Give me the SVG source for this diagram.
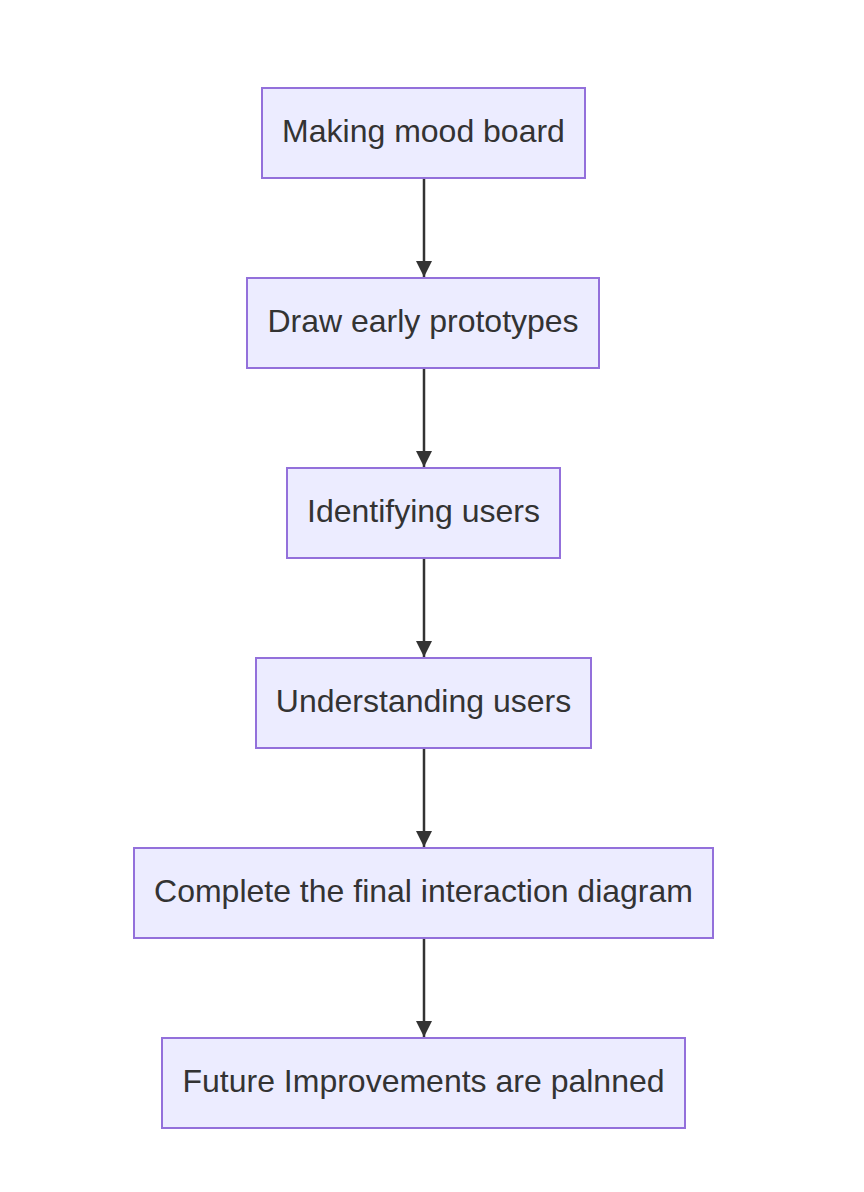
<svg xmlns="http://www.w3.org/2000/svg" width="864" height="1192" viewBox="0 0 864 1192">
<style>
.node rect{fill:#ECECFF;stroke:#9370DB;stroke-width:2}
.node text{font-family:"Liberation Sans",Arial,sans-serif;font-size:32px;fill:#333;text-anchor:middle}
.edge{stroke:#333;stroke-width:2.5;fill:none}
</style>
<defs>
<marker id="arrow" markerUnits="userSpaceOnUse" viewBox="0 0 10 10" refX="10" refY="5" markerWidth="17" markerHeight="16" orient="auto">
<path d="M0,0 L10,5 L0,10 z" fill="#333"/>
</marker>
</defs>
<rect width="864" height="1192" fill="#fff"/>
<g id="connectors">
<line class="edge" x1="424" y1="178" x2="424" y2="277" marker-end="url(#arrow)"/>
<line class="edge" x1="424" y1="368" x2="424" y2="467" marker-end="url(#arrow)"/>
<line class="edge" x1="424" y1="558" x2="424" y2="657" marker-end="url(#arrow)"/>
<line class="edge" x1="424" y1="748" x2="424" y2="847" marker-end="url(#arrow)"/>
<line class="edge" x1="424" y1="938" x2="424" y2="1037" marker-end="url(#arrow)"/>
</g>
<g id="n1" class="node"><rect x="262" y="88" width="323" height="90"/><text x="423.5" y="142">Making mood board</text></g>
<g id="n2" class="node"><rect x="247" y="278" width="352" height="90"/><text x="423" y="332">Draw early prototypes</text></g>
<g id="n3" class="node"><rect x="287" y="468" width="273" height="90"/><text x="423.5" y="522">Identifying users</text></g>
<g id="n4" class="node"><rect x="256" y="658" width="335" height="90"/><text x="423.5" y="712">Understanding users</text></g>
<g id="n5" class="node"><rect x="134" y="848" width="579" height="90"/><text x="423.5" y="902">Complete the final interaction diagram</text></g>
<g id="n6" class="node"><rect x="162" y="1038" width="523" height="90"/><text x="423.5" y="1092">Future Improvements are palnned</text></g>
</svg>
